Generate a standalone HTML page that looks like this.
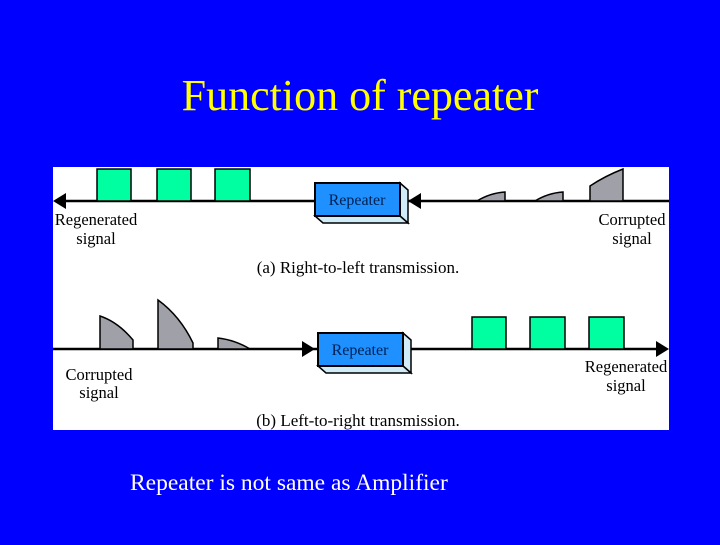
<!DOCTYPE html>
<html><head><style>
html,body{margin:0;padding:0;background:#0000ff;}
body{width:720px;height:540px;overflow:hidden;position:relative;}
svg text{font-family:"Liberation Serif",serif;}
</style></head><body>
<svg width="720" height="540" viewBox="0 0 720 540" xmlns="http://www.w3.org/2000/svg">
<rect width="720" height="540" fill="#0000ff"/>
<text x="360" y="110" font-size="44" fill="#ffff00" text-anchor="middle">Function of repeater</text>
<rect x="53" y="167" width="616" height="263" fill="#ffffff"/>

<!-- top diagram -->
<line x1="60" y1="201" x2="315" y2="201" stroke="#000" stroke-width="2.5"/>
<line x1="408" y1="201" x2="669" y2="201" stroke="#000" stroke-width="2.5"/>
<polygon points="53,201 66,193 66,209" fill="#000"/>
<polygon points="408,201 421,193 421,209" fill="#000"/>
<g fill="#00ffa0" stroke="#000" stroke-width="1.5">
<rect x="97" y="169" width="34" height="32"/>
<rect x="157" y="169" width="34" height="32"/>
<rect x="215" y="169" width="35" height="32"/>
</g>
<g fill="#a0a0a8" stroke="#000" stroke-width="1.5">
<path d="M477,201 Q490,193 505,192 L505,201 Z"/>
<path d="M535,201 Q548,193 563,192 L563,201 Z"/>
<path d="M590,201 L590,186 Q605,176 623,169 L623,201 Z"/>
</g>
<polygon points="400,183 408,190 408,223 400,216" fill="#d0ecf8" stroke="#000" stroke-width="1.5"/>
<polygon points="315,216 400,216 408,223 323,223" fill="#d0ecf8" stroke="#000" stroke-width="1.5"/>
<rect x="315" y="183" width="85" height="33" fill="#1e90ff" stroke="#000" stroke-width="2"/>
<text x="357" y="205" font-size="16" text-anchor="middle" fill="#002050">Repeater</text>
<text x="96" y="225" font-size="16.5" text-anchor="middle">Regenerated</text>
<text x="96" y="244" font-size="16.5" text-anchor="middle">signal</text>
<text x="632" y="225" font-size="16.5" text-anchor="middle">Corrupted</text>
<text x="632" y="244" font-size="16.5" text-anchor="middle">signal</text>
<text x="358" y="273" font-size="17" text-anchor="middle">(a) Right-to-left transmission.</text>

<!-- bottom diagram -->
<line x1="53" y1="349" x2="318" y2="349" stroke="#000" stroke-width="2.5"/>
<line x1="411" y1="349" x2="660" y2="349" stroke="#000" stroke-width="2.5"/>
<polygon points="315,349 302,341 302,357" fill="#000"/>
<polygon points="669,349 656,341 656,357" fill="#000"/>
<g fill="#a0a0a8" stroke="#000" stroke-width="1.5">
<path d="M100,349 L100,316 Q118,322 133,340 L133,349 Z"/>
<path d="M158,349 L158,300 Q180,316 193,343 L193,349 Z"/>
<path d="M218,349 L218,338 Q235,340 250,349 Z"/>
</g>
<g fill="#00ffa0" stroke="#000" stroke-width="1.5">
<rect x="472" y="317" width="34" height="32"/>
<rect x="530" y="317" width="35" height="32"/>
<rect x="589" y="317" width="35" height="32"/>
</g>
<polygon points="403,333 411,340 411,373 403,366" fill="#d0ecf8" stroke="#000" stroke-width="1.5"/>
<polygon points="318,366 403,366 411,373 326,373" fill="#d0ecf8" stroke="#000" stroke-width="1.5"/>
<rect x="318" y="333" width="85" height="33" fill="#1e90ff" stroke="#000" stroke-width="2"/>
<text x="360" y="355" font-size="16" text-anchor="middle" fill="#002050">Repeater</text>
<text x="99" y="380" font-size="16.5" text-anchor="middle">Corrupted</text>
<text x="99" y="398" font-size="16.5" text-anchor="middle">signal</text>
<text x="626" y="372" font-size="16.5" text-anchor="middle">Regenerated</text>
<text x="626" y="391" font-size="16.5" text-anchor="middle">signal</text>
<text x="358" y="426" font-size="17" text-anchor="middle">(b) Left-to-right transmission.</text>

<text x="130" y="490" font-size="23.5" fill="#ffffff">Repeater is not same as Amplifier</text>
</svg>
</body></html>
